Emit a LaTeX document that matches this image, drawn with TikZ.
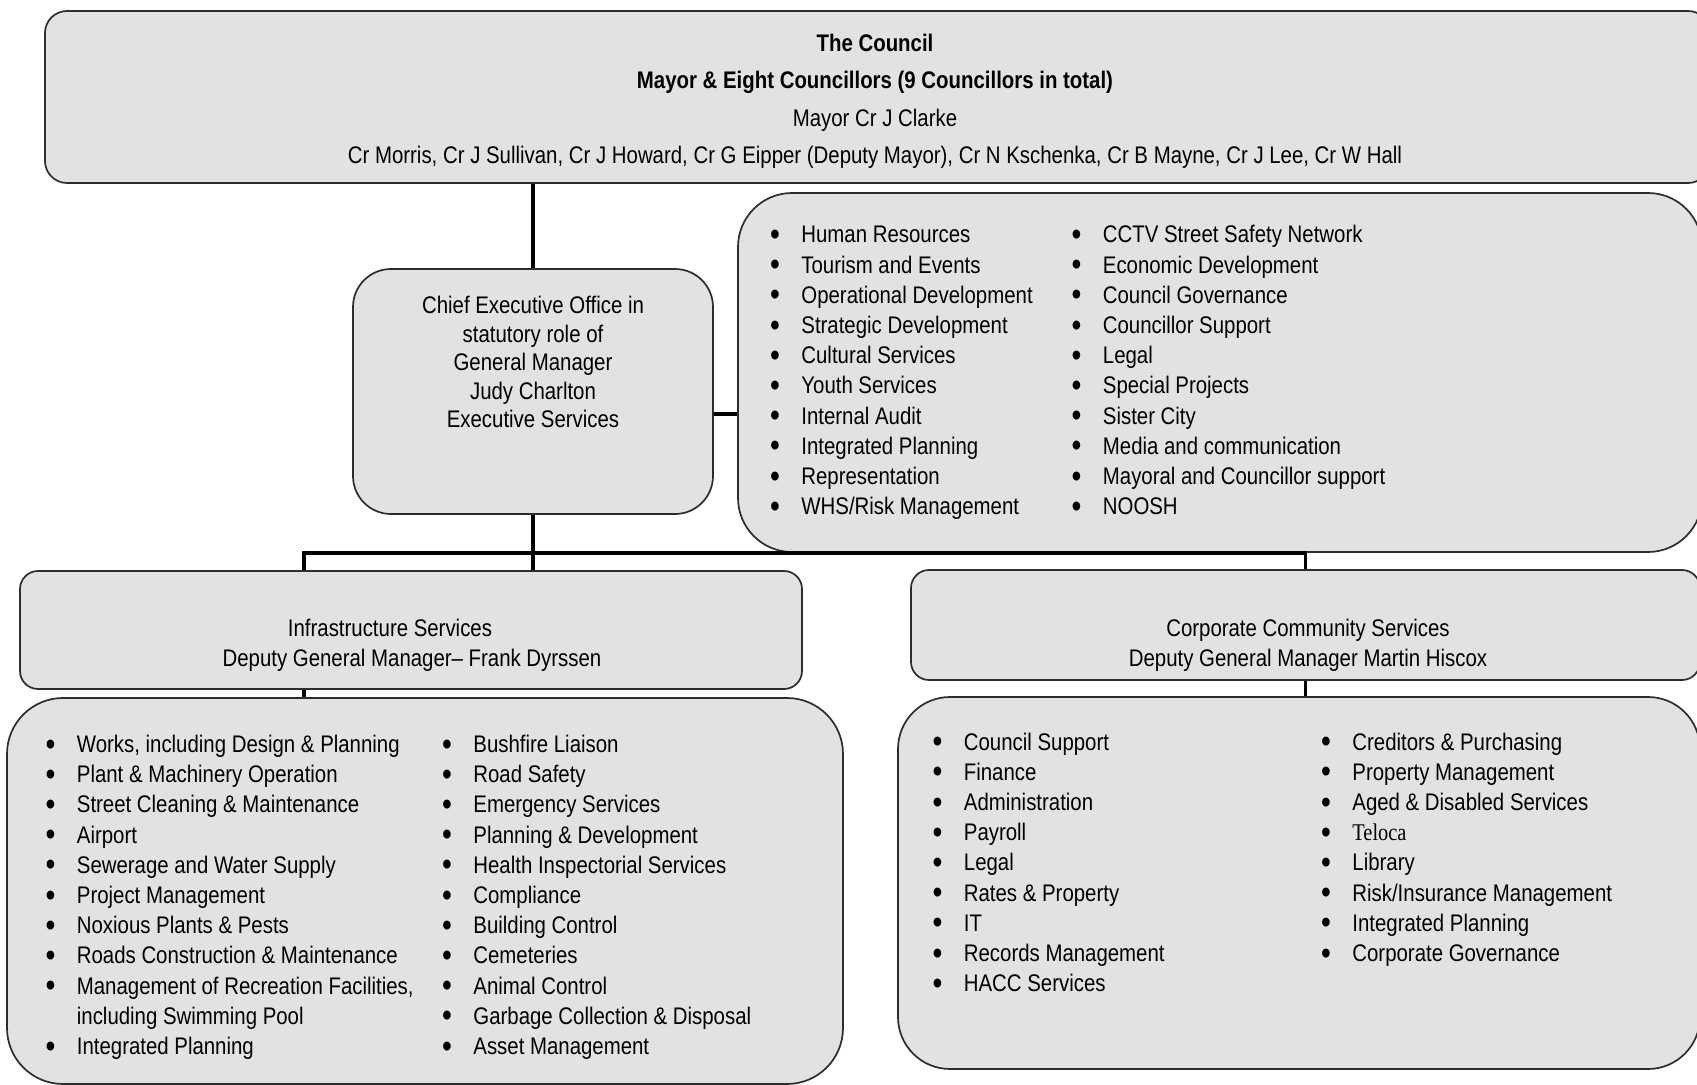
\documentclass[tikz,border=0pt]{standalone}
\usepackage{fontspec}
\setmainfont{Liberation Sans}[FakeStretch=0.85]
\newfontfamily\romanface{Liberation Serif}[FakeStretch=0.85]
\usetikzlibrary{fit}

\definecolor{boxfill}{RGB}{226,226,226}
\definecolor{edge}{RGB}{45,45,45}

% one unit = one pixel of a 1697 x 1085 sheet, y running downwards
\tikzset{
  panel/.style={draw=edge, line width=0.85pt, fill=boxfill, inner sep=0pt},
  link/.style={draw=black, line width=1.6pt},
  txt/.style={inner sep=0pt, anchor=base},
  listcol/.style={inner sep=0pt, anchor=base west,
    font=\fontsize{12}{15.1}\selectfont},
}
\newcommand{\itm}{\makebox[15pt][l]{\hspace*{-0.6pt}\raisebox{-1.3pt}{\fontsize{16.5}{16.5}\selectfont\textbullet}}}
\newcommand{\cont}{\hspace*{15pt}}
\newcommand{\rows}[1]{\begin{tabular}[t]{@{}l@{}}#1\end{tabular}}
\newcommand{\crows}[1]{\begin{tabular}[t]{@{}c@{}}#1\end{tabular}}

\begin{document}
\begin{tikzpicture}[x=0.5pt, y=-0.5pt]
  \useasboundingbox (0,0) rectangle (1697,1085);
  \clip (0,0) rectangle (1697,1085);
  \fill[white] (0,0) rectangle (1697,1085);

  % ---------- boxes ----------
  \node[panel, rounded corners=11pt, fit={(45,11) (1710,183)}] (council) {};
  \node[panel, rounded corners=27pt, fit={(738,193) (1702,552)}] (services) {};
  \node[panel, rounded corners=19pt, fit={(353,269) (713,514)}] (ceo) {};
  \node[panel, rounded corners=9pt, fit={(20,571) (802,689)}] (infra) {};
  \node[panel, rounded corners=9pt, fit={(911,570) (1700,680)}] (corp) {};
  \node[panel, rounded corners=28pt, fit={(7,698) (843,1084)}] (infralist) {};
  \node[panel, rounded corners=26pt, fit={(898,697) (1700,1069)}] (corplist) {};

  % ---------- connectors ----------
  \coordinate (busL) at (304,553);
  \coordinate (busR) at (corp.north |- busL);
  \draw[link] (council.south -| ceo.north) -- (ceo.north);
  \draw[link] ([yshift=-11.25pt]ceo.east) -- ([yshift=-11.25pt]ceo.east -| services.west);
  \draw[link] (ceo.south) -- (ceo.south |- infra.north);
  \draw[link] (infra.north -| busL) -- (busL) -- (busR) -- (corp.north);
  \draw[link] (infra.south -| busL) -- (infralist.north -| busL);
  \draw[link] (corp.south) -- (corp.south |- corplist.north);

  % ---------- council ----------
  \node[txt, font=\fontsize{12}{18.75}\selectfont] (counciltext) at (875,51.5) {\crows{%
    \textbf{The Council}\\
    \textbf{Mayor \& Eight Councillors (9 Councillors in total)}\\
    Mayor Cr J Clarke\\
    Cr Morris, Cr J Sullivan, Cr J Howard, Cr G Eipper (Deputy Mayor), Cr N Kschenka, Cr B Mayne, Cr J Lee, Cr W Hall}};

  % ---------- general manager ----------
  \node[txt, font=\fontsize{12}{14.25}\selectfont] (ceotext) at (533,314) {\crows{%
    Chief Executive Office in\\
    statutory role of\\
    General Manager\\
    Judy Charlton\\
    Executive Services}};

  \node[listcol] (svcA) at (771,243) {\rows{%
    \itm Human Resources\\
    \itm Tourism and Events\\
    \itm Operational Development\\
    \itm Strategic Development\\
    \itm Cultural Services\\
    \itm Youth Services\\
    \itm Internal Audit\\
    \itm Integrated Planning\\
    \itm Representation\\
    \itm WHS/Risk Management}};
  \node[listcol] (svcB) at (1072.5,243) {\rows{%
    \itm CCTV Street Safety Network\\
    \itm Economic Development\\
    \itm Council Governance\\
    \itm Councillor Support\\
    \itm Legal\\
    \itm Special Projects\\
    \itm Sister City\\
    \itm Media and communication\\
    \itm Mayoral and Councillor support\\
    \itm NOOSH}};

  % ---------- infrastructure ----------
  \node[txt, font=\fontsize{12}{14.75}\selectfont] (infratext) at (412,636.5) {\crows{%
    Infrastructure Services\hspace*{22pt}\\
    Deputy General Manager-- Frank Dyrssen}};

  \node[listcol] (infA) at (46.5,752.5) {\rows{%
    \itm Works, including Design \& Planning\\
    \itm Plant \& Machinery Operation\\
    \itm Street Cleaning \& Maintenance\\
    \itm Airport\\
    \itm Sewerage and Water Supply\\
    \itm Project Management\\
    \itm Noxious Plants \& Pests\\
    \itm Roads Construction \& Maintenance\\
    \itm Management of Recreation Facilities,\\
    \cont including Swimming Pool\\
    \itm Integrated Planning}};
  \node[listcol] (infB) at (443,752.5) {\rows{%
    \itm Bushfire Liaison\\
    \itm Road Safety\\
    \itm Emergency Services\\
    \itm Planning \& Development\\
    \itm Health Inspectorial Services\\
    \itm Compliance\\
    \itm Building Control\\
    \itm Cemeteries\\
    \itm Animal Control\\
    \itm Garbage Collection \& Disposal\\
    \itm Asset Management}};

  % ---------- corporate and community ----------
  \node[txt, font=\fontsize{12}{14.75}\selectfont] (corptext) at (1308,636.5) {\crows{%
    Corporate Community Services\\
    Deputy General Manager Martin Hiscox}};

  \node[listcol] (corA) at (933.5,750) {\rows{%
    \itm Council Support\\
    \itm Finance\\
    \itm Administration\\
    \itm Payroll\\
    \itm Legal\\
    \itm Rates \& Property\\
    \itm IT\\
    \itm Records Management\\
    \itm HACC Services}};
  \node[listcol] (corB) at (1322,750) {\rows{%
    \itm Creditors \& Purchasing\\
    \itm Property Management\\
    \itm Aged \& Disabled Services\\
    \itm {\romanface Teloca}\\
    \itm Library\\
    \itm Risk/Insurance Management\\
    \itm Integrated Planning\\
    \itm Corporate Governance}};
\end{tikzpicture}
\end{document}
